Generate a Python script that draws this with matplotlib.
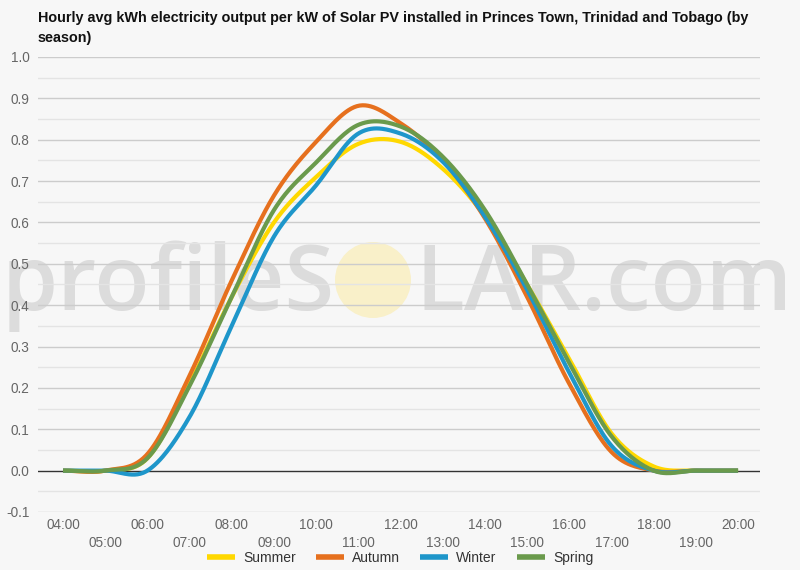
import numpy as np
import matplotlib
matplotlib.use("Agg")
import matplotlib.pyplot as plt
from matplotlib.patches import Ellipse
from matplotlib.lines import Line2D

plt.rcParams['font.family'] = ['Liberation Sans', 'DejaVu Sans']

hours = list(range(4, 21))
hour_labels = [f"{h:02d}:00" for h in hours]
summer = [0, 0, 0.03, 0.21, 0.42, 0.60, 0.71, 0.79, 0.795, 0.73, 0.615, 0.45, 0.27, 0.09, 0.01, 0, 0]
autumn = [0, 0, 0.04, 0.23, 0.46, 0.665, 0.795, 0.882, 0.84, 0.75, 0.61, 0.42, 0.21, 0.045, 0, 0, 0]
winter = [0, 0, 0, 0.13, 0.35, 0.566, 0.69, 0.815, 0.815, 0.747, 0.614, 0.437, 0.237, 0.06, 0, 0, 0]
spring = [0, 0, 0.03, 0.205, 0.42, 0.63, 0.745, 0.836, 0.832, 0.759, 0.63, 0.45, 0.26, 0.083, 0, 0, 0]
series_names = ["Summer", "Autumn", "Winter", "Spring"]
series_vals = [summer, autumn, winter, spring]
colors = ['#FFD800', '#E6701E', '#1E96CA', '#6A9A4C']
title = ("Hourly avg kWh electricity output per kW of Solar PV installed in Princes Town, Trinidad and Tobago (by\n"
         "season)")


def smooth(x, y, n=30):
    x = np.asarray(x, float)
    y = np.asarray(y, float)
    m = np.zeros_like(y)
    m[1:-1] = (y[2:] - y[:-2]) / (x[2:] - x[:-2])
    xs, ys = [], []
    for i in range(len(x) - 1):
        t = np.linspace(0, 1, n, endpoint=False)
        h = x[i + 1] - x[i]
        h00 = 2 * t**3 - 3 * t**2 + 1
        h10 = t**3 - 2 * t**2 + t
        h01 = -2 * t**3 + 3 * t**2
        h11 = t**3 - t**2
        xs.append(x[i] + t * h)
        ys.append(h00 * y[i] + h10 * h * m[i] + h01 * y[i + 1] + h11 * h * m[i + 1])
    xs.append([x[-1]])
    ys.append([y[-1]])
    return np.concatenate(xs), np.concatenate(ys)


bg = '#f7f7f7'
fig = plt.figure(figsize=(8, 5.7), dpi=100, facecolor=bg)
ax = fig.add_axes([0.0475, 0.1018, 0.9025, 0.7982])
ax.patch.set_alpha(0)

# watermark (behind the axes)
wm_color = '#dcdcdc'
fig.text(0.002, 1 - 310 / 570, "profileS", fontsize=65, color=wm_color, family='Open Sans',
         fontweight='semibold', va='baseline', ha='left', zorder=-2)
fig.text(0.99, 1 - 310 / 570, "LAR.com", fontsize=65, color=wm_color, family='Open Sans',
         fontweight='semibold', va='baseline', ha='right', zorder=-2)
circ = Ellipse((373 / 800, 1 - 280 / 570), 76 / 800, 76 / 570, transform=fig.transFigure,
               facecolor='#f9f0c9', edgecolor='none', zorder=-1)
fig.patches.append(circ)

ax.set_xlim(3.407, 20.52)
ax.set_ylim(-0.1, 1.0)

for v in np.arange(-0.1, 1.001, 0.05):
    v = round(v, 2)
    if abs(v) < 1e-9:
        continue
    major = abs(round(v * 10) - v * 10) < 1e-6
    ax.axhline(v, color='#cccccc' if major else '#e4e4e4', lw=1.0, zorder=1)
ax.axhline(0, color='#333333', lw=1.0, zorder=2)

for name, vals, c in zip(series_names, series_vals, colors):
    xs, ys = smooth(hours, vals)
    ax.plot(xs, ys, color=c, lw=3.0, solid_capstyle='butt', zorder=3)

for s in ax.spines.values():
    s.set_visible(False)

yt = np.round(np.arange(-0.1, 1.001, 0.1), 1)
ax.set_yticks(yt)
ax.set_yticklabels([f"{v:.1f}" for v in yt])
ax.set_xticks(hours)
ax.set_xticklabels([lab if i % 2 == 0 else "\n" + lab for i, lab in enumerate(hour_labels)])
ax.tick_params(axis='both', length=0, colors='#666666', labelsize=9.8)
ax.tick_params(axis='y', pad=6)
ax.tick_params(axis='x', pad=4)
for lab in ax.get_xticklabels():
    lab.set_linespacing(1.45)

fig.text(38 / 800, 1 - 11 / 570, title, fontsize=10.4, fontweight='bold', color='#111111',
         va='top', ha='left', linespacing=1.55)

handles = [Line2D([0], [0], color=c, lw=4, solid_capstyle='butt') for c in colors]
fig.legend(handles, series_names, loc='center', bbox_to_anchor=(0.5, 1 - 558 / 570),
           ncol=4, frameon=False, fontsize=10, handlelength=2.0, handletextpad=0.6,
           columnspacing=1.45, labelcolor='#333333')

fig.savefig("out.png", dpi=100, facecolor=bg)
